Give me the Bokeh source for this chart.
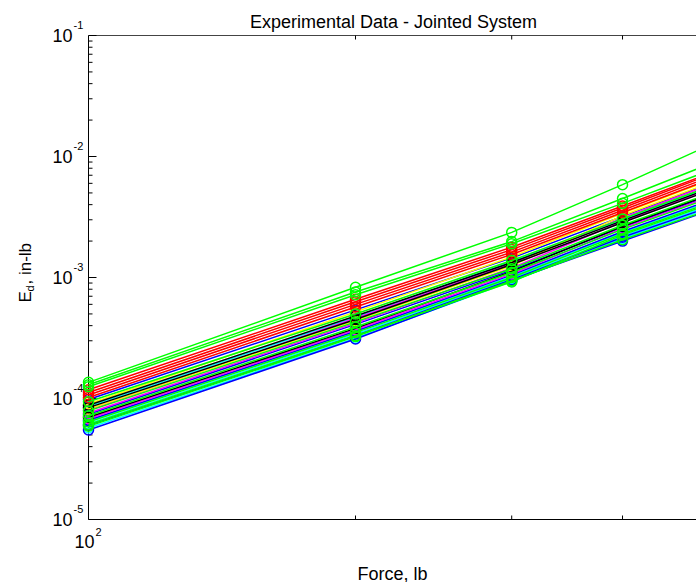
from math import pi

from bokeh.core.properties import value
from bokeh.embed import file_html
from bokeh.models import Label, Range1d
from bokeh.plotting import figure
from bokeh.resources import INLINE

# Applied force levels, lb
force = [100, 200, 300, 400, 500]

# Dissipated energy per cycle, in-lb, one list per test run, grouped by trace colour
runs_green = [
    [1.36e-4, 8.3e-4, 2.36e-3, 5.85e-3, 1.23e-2],
    [1.30e-4, 7.6e-4, 1.98e-3, 4.50e-3, 8.6e-3],
    [1.25e-4, 7.2e-4, 1.90e-3, 4.10e-3, 7.6e-3],
    [9.4e-5, 5.0e-4, 1.38e-3, 3.05e-3, 5.6e-3],
    [7.9e-5, 4.3e-4, 1.18e-3, 2.70e-3, 4.9e-3],
    [7.2e-5, 3.9e-4, 1.10e-3, 2.50e-3, 4.5e-3],
    [6.4e-5, 3.5e-4, 1.00e-3, 2.30e-3, 4.1e-3],
    [6.1e-5, 3.3e-4, 9.2e-4, 2.25e-3, 4.0e-3],
    [5.9e-5, 3.25e-4, 9.4e-4, 2.05e-3, 3.6e-3],
]
runs_red = [
    [1.18e-4, 6.6e-4, 1.78e-3, 3.90e-3, 7.2e-3],
    [1.12e-4, 6.3e-4, 1.70e-3, 3.75e-3, 7.0e-3],
    [1.07e-4, 6.0e-4, 1.62e-3, 3.60e-3, 6.7e-3],
    [1.02e-4, 5.7e-4, 1.55e-3, 3.45e-3, 6.4e-3],
]
runs_blue = [
    [9.8e-5, 5.4e-4, 1.45e-3, 3.20e-3, 5.9e-3],
    [7.4e-5, 4.1e-4, 1.15e-3, 2.60e-3, 4.7e-3],
    [6.6e-5, 3.6e-4, 1.05e-3, 2.40e-3, 4.3e-3],
    [6.0e-5, 3.3e-4, 9.6e-4, 2.15e-3, 3.8e-3],
    [5.5e-5, 3.1e-4, 9.5e-4, 2.00e-3, 3.55e-3],
]
runs_cyan = [
    [8.6e-5, 4.7e-4, 1.35e-3, 3.00e-3, 5.5e-3],
    [6.5e-5, 3.6e-4, 1.02e-3, 2.35e-3, 4.2e-3],
    [6.2e-5, 3.4e-4, 9.8e-4, 2.20e-3, 3.9e-3],
    [5.7e-5, 3.15e-4, 9.3e-4, 2.10e-3, 3.7e-3],
]
runs_magenta = [
    [8.0e-5, 4.6e-4, 1.30e-3, 3.10e-3, 5.8e-3],
    [7.6e-5, 4.2e-4, 1.20e-3, 2.90e-3, 5.3e-3],
    [6.8e-5, 3.7e-4, 1.07e-3, 2.55e-3, 4.6e-3],
]
runs_yellow = [
    [9.0e-5, 5.2e-4, 1.48e-3, 3.40e-3, 6.3e-3],
    [8.2e-5, 4.4e-4, 1.25e-3, 3.25e-3, 6.0e-3],
]
runs_black = [
    [8.8e-5, 4.8e-4, 1.33e-3, 2.95e-3, 5.4e-3],
    [8.4e-5, 4.5e-4, 1.28e-3, 2.85e-3, 5.2e-3],
    [7.0e-5, 3.8e-4, 1.12e-3, 2.65e-3, 4.8e-3],
]

# axis limits and ticks
X_LO, X_HI = 100, 500
Y_LO, Y_HI = 1e-5, 1e-1
y_ticks = [1e-5, 1e-4, 1e-3, 1e-2, 1e-1]
y_exponents = ["-5", "-4", "-3", "-2", "-1"]
y_minor = [m * 10.0 ** e for e in range(-5, -1) for m in range(2, 10)]
x_minor = [200, 300, 400]

FONT = "Liberation Sans"
W, H = 696, 582
# axes box in canvas pixels; log scales in pixels per decade
BOX_LEFT, BOX_TOP, BOX_BOTTOM = 88, 35, 519
PX_X = 887.0
PX_Y = (BOX_BOTTOM - BOX_TOP) / 4.0

# the plotting frame fills the whole canvas so that the markers on the
# left edge and the annotation texts are not cut by the axes box
x_start = 10 ** (2 - BOX_LEFT / PX_X)
x_end = 10 ** (2 + (W - BOX_LEFT) / PX_X)
y_start = 10 ** (-5 - (H - BOX_BOTTOM) / PX_Y)
y_end = 10 ** (-1 + BOX_TOP / PX_Y)

p = figure(
    width=W, height=H,
    x_axis_type="log", y_axis_type="log",
    x_range=Range1d(x_start, x_end), y_range=Range1d(y_start, y_end),
    x_axis_location=None, y_axis_location=None,
    output_backend="svg", toolbar_location=None,
    min_border=0,
)
p.outline_line_color = None
p.xgrid.visible = False
p.ygrid.visible = False
p.background_fill_color = "white"
p.border_fill_color = "white"


def dx(px):
    return 10 ** (px / PX_X)


def dy(px):
    return 10 ** (px / PX_Y)


# axes box: left, bottom and top edges
p.segment(x0=[X_LO, X_LO], y0=[Y_LO, Y_LO], x1=[X_LO, X_HI * 1.05], y1=[Y_HI, Y_LO],
          line_color="black", line_width=1)
p.segment(x0=[X_LO], y0=[Y_HI], x1=[X_HI * 1.05], y1=[Y_HI],
          line_color="#444444", line_width=1.2)

# y ticks pointing inwards
p.segment(x0=[X_LO] * len(y_ticks), y0=y_ticks, x1=[X_LO * dx(8)] * len(y_ticks), y1=y_ticks,
          line_color="black", line_width=1)
p.segment(x0=[X_LO] * len(y_minor), y0=y_minor, x1=[X_LO * dx(4)] * len(y_minor), y1=y_minor,
          line_color="black", line_width=1)
# x ticks on bottom and top edges
p.segment(x0=x_minor, y0=[Y_LO] * 3, x1=x_minor, y1=[Y_LO * dy(4)] * 3,
          line_color="black", line_width=1)
p.segment(x0=x_minor, y0=[Y_HI] * 3, x1=x_minor, y1=[Y_HI / dy(4)] * 3,
          line_color="black", line_width=1)

groups = [
    (runs_cyan, "#00FFFF"),
    (runs_blue, "#0000FF"),
    (runs_magenta, "#FF00FF"),
    (runs_yellow, "#FFFF00"),
    (runs_black, "#000000"),
    (runs_red, "#FF0000"),
    (runs_green, "#00FF00"),
]
for runs, color in groups:
    for ed in runs:
        p.line(force, ed, line_color=color, line_width=1.5)
        p.scatter(force, ed, marker="circle", size=10, fill_color=None,
                  line_color=color, line_width=1.5)


def text(s, ox, oy, size, align="left", baseline="middle"):
    # ox, oy: pixel offsets from the lower-left corner of the axes box
    p.add_layout(Label(
        x=X_LO, y=Y_LO, x_offset=ox, y_offset=oy, text=s,
        text_font=FONT, text_font_size=f"{size}px", text_color="black",
        text_align=align, text_baseline=baseline,
    ))


def vtext(s, ox, oy, size):
    # text reading upwards; ox, oy are screen offsets (down positive)
    p.text(x=[X_LO], y=[Y_LO], text=[s], x_offset=ox, y_offset=oy, angle=pi / 2,
           text_font=value(FONT), text_font_size=f"{size}px", text_color="black",
           text_align="left", text_baseline="alphabetic")


# y tick labels: base and raised exponent
for k, expo in enumerate(y_exponents):
    oy = k * PX_Y
    text("10", -16, oy, 18, align="right")
    text(expo, -15, oy + 11, 11)

# x tick label
text("10", 6, -22, 18, align="right")
text("2", 7, -12, 11)

# title and axis titles
text("Experimental Data - Jointed System", 305, 498, 18, align="center",
     baseline="alphabetic")
text("Force, lb", 304, -54, 18, align="center", baseline="alphabetic")
vtext("E", -63, -217, 17)
vtext("d", -59, -228, 11)
vtext(", in-lb", -63, -235, 17)

open("out.html", "w").write(file_html(p, INLINE))
